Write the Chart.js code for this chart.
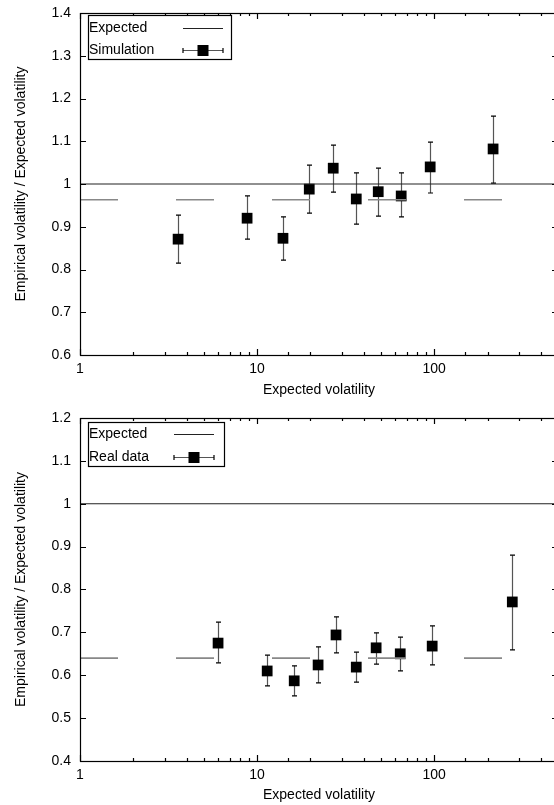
<!DOCTYPE html>
<html>
<head>
<meta charset="utf-8">
<script src="https://cdn.jsdelivr.net/npm/chart.js@4.4.1/dist/chart.umd.min.js"></script>
<style>
  body { margin: 0; background: #fff; overflow: hidden; }
  #wrap { width: 554px; height: 805px; overflow: hidden; }
  canvas { display: block; }
</style>
</head>
<body>
<div id="wrap">
  <canvas id="simChart" width="560" height="400"></canvas>
  <canvas id="realChart" width="560" height="405"></canvas>
</div>
<script>
// simulation (top panel)
const simX  = [3.58, 8.78, 14.0, 19.7, 26.9, 36.3, 48.3, 65.1, 94.9, 215];
const simY  = [0.871, 0.920, 0.873, 0.988, 1.037, 0.965, 0.982, 0.972, 1.040, 1.082];
const simHi = [0.927, 0.972, 0.923, 1.044, 1.091, 1.026, 1.037, 1.026, 1.098, 1.159];
const simLo = [0.815, 0.871, 0.822, 0.932, 0.981, 0.906, 0.925, 0.923, 0.979, 1.002];
const simBand = 0.963;

// real data (bottom panel)
const realX  = [6.02, 11.4, 16.2, 22.1, 27.9, 36.3, 47.0, 64.3, 97.4, 276];
const realY  = [0.675, 0.610, 0.587, 0.624, 0.694, 0.619, 0.664, 0.650, 0.668, 0.771];
const realHi = [0.724, 0.647, 0.622, 0.666, 0.736, 0.654, 0.699, 0.689, 0.715, 0.880];
const realLo = [0.629, 0.575, 0.552, 0.582, 0.652, 0.584, 0.626, 0.610, 0.624, 0.659];
const realBand = 0.640;

const expectedRatio = 1;
const xRange = [1, 500];
const simRange = [0.6, 1.4];
const realRange = [0.4, 1.2];

const FONT = "'Liberation Sans', Arial, Helvetica, sans-serif";

// error bars under the squares
const errorBars = {
  id: 'errorBars',
  beforeDatasetsDraw(chart) {
    const {ctx, scales: {x, y}} = chart;
    ctx.save();
    chart.data.datasets.forEach(ds => {
      if (!ds.errLo) return;
      ds.data.forEach((p, i) => {
        const px = Math.round(x.getPixelForValue(p.x)) + 0.5;
        const top = y.getPixelForValue(ds.errHi[i]);
        const bot = y.getPixelForValue(ds.errLo[i]);
        ctx.strokeStyle = '#555';
        ctx.lineWidth = 1.2;
        ctx.beginPath();
        ctx.moveTo(px, top);
        ctx.lineTo(px, bot);
        ctx.stroke();
        ctx.strokeStyle = '#000';
        ctx.beginPath();
        ctx.moveTo(px - 2.5, top); ctx.lineTo(px + 2.5, top);
        ctx.moveTo(px - 2.5, bot); ctx.lineTo(px + 2.5, bot);
        ctx.stroke();
      });
    });
    ctx.restore();
  }
};

// frame with inward ticks, gnuplot style
const frameTicks = {
  id: 'frameTicks',
  afterDraw(chart) {
    const {ctx, chartArea: a, scales: {x, y}} = chart;
    ctx.save();
    ctx.strokeStyle = '#000';
    ctx.lineWidth = 1.2;
    ctx.strokeRect(a.left + 0.5, a.top + 0.5, a.right - a.left, a.bottom - a.top);
    ctx.beginPath();
    x.ticks.forEach(t => {
      const lg = Math.log10(t.value);
      const len = Math.abs(lg - Math.round(lg)) < 1e-9 ? 6 : 3;
      const px = Math.round(x.getPixelForValue(t.value)) + 0.5;
      ctx.moveTo(px, a.bottom); ctx.lineTo(px, a.bottom - len);
      ctx.moveTo(px, a.top); ctx.lineTo(px, a.top + len);
    });
    y.ticks.forEach(t => {
      const py = Math.round(y.getPixelForValue(t.value)) + 0.5;
      ctx.moveTo(a.left, py); ctx.lineTo(a.left + 6, py);
      ctx.moveTo(a.right, py); ctx.lineTo(a.right - 6, py);
    });
    ctx.stroke();
    ctx.restore();
  }
};

// key box in the upper left corner
const gpLegend = {
  id: 'gpLegend',
  afterDraw(chart, args, opts) {
    const {ctx} = chart;
    const b = opts.box;
    ctx.save();
    ctx.fillStyle = '#fff';
    ctx.fillRect(b.x, b.y, b.w, b.h);
    ctx.strokeStyle = '#000';
    ctx.lineWidth = 1.2;
    ctx.strokeRect(b.x + 0.5, b.y + 0.5, b.w, b.h);
    ctx.font = '14px ' + FONT;
    ctx.fillStyle = '#000';
    ctx.textBaseline = 'middle';
    ctx.fillText(opts.labels[0], b.x + 1, b.y + opts.rows[0]);
    ctx.fillText(opts.labels[1], b.x + 1, b.y + opts.rows[1]);

    const x1 = b.x + b.w - opts.sample[0];
    const x2 = b.x + b.w - opts.sample[1];
    const r0 = Math.round(b.y + opts.rows[0]) + 0.5;
    const r1 = Math.round(b.y + opts.rows[1]) + 0.5;
    ctx.strokeStyle = '#222';
    ctx.lineWidth = 1.2;
    ctx.beginPath();
    ctx.moveTo(x1, r0); ctx.lineTo(x2, r0);
    ctx.stroke();
    ctx.strokeStyle = '#555';
    ctx.beginPath();
    ctx.moveTo(x1, r1); ctx.lineTo(x2, r1);
    ctx.stroke();
    ctx.strokeStyle = '#000';
    ctx.beginPath();
    ctx.moveTo(x1, r1 - 2.5); ctx.lineTo(x1, r1 + 2.5);
    ctx.moveTo(x2, r1 - 2.5); ctx.lineTo(x2, r1 + 2.5);
    ctx.stroke();
    ctx.fillStyle = '#000';
    const mid = (x1 + x2) / 2;
    ctx.fillRect(mid - 5.5, r1 - 5.5, 11, 11);
    ctx.restore();
  }
};

const makeChart = (canvas, cfg) => {
  return new Chart(canvas, {
    type: 'scatter',
    data: {
      datasets: [{
        label: 'Expected',
        data: [{x: xRange[0], y: expectedRatio}, {x: xRange[1], y: expectedRatio}],
        showLine: true,
        borderColor: '#222',
        borderWidth: 1.2,
        pointRadius: 0
      }, {
        label: 'mean',
        data: [{x: xRange[0], y: cfg.band}, {x: xRange[1], y: cfg.band}],
        showLine: true,
        borderColor: '#888',
        borderWidth: 1.6,
        borderDash: [38, 58],
        pointRadius: 0
      }, {
        label: cfg.name,
        data: cfg.xs.map((v, i) => ({x: v, y: cfg.ys[i]})),
        errLo: cfg.lo,
        errHi: cfg.hi,
        pointStyle: 'rect',
        pointRadius: 7.6,
        backgroundColor: '#000',
        borderWidth: 0
      }]
    },
    options: {
      responsive: false,
      animation: false,
      events: [],
      layout: { autoPadding: false, padding: { top: cfg.top, right: 2, left: 0, bottom: 0 } },
      plugins: {
        legend: { display: false },
        tooltip: { enabled: false },
        gpLegend: cfg.legend
      },
      scales: {
        x: {
          type: 'logarithmic',
          min: xRange[0],
          max: xRange[1],
          grid: { display: false, drawTicks: false },
          border: { display: false },
          afterFit: s => { s.height = cfg.xH; s.paddingLeft = 0; s.paddingRight = 0; },
          ticks: {
            autoSkip: false,
            maxRotation: 0,
            minRotation: 0,
            padding: 6,
            color: '#000',
            font: { family: FONT, size: 14 },
            callback: v => {
              const lg = Math.log10(v);
              return Math.abs(lg - Math.round(lg)) < 1e-9 ? String(v) : '';
            }
          },
          title: {
            display: true,
            text: 'Expected volatility',
            color: '#000',
            font: { family: FONT, size: 14 },
            padding: { top: 0, bottom: 1.5 }
          }
        },
        y: {
          min: cfg.range[0],
          max: cfg.range[1],
          grid: { display: false, drawTicks: false },
          border: { display: false },
          afterFit: s => { s.width = 80; s.paddingTop = 0; s.paddingBottom = 0; },
          ticks: {
            stepSize: 0.1,
            padding: 9,
            color: '#000',
            font: { family: FONT, size: 14 },
            callback: v => String(+v.toFixed(1))
          },
          title: {
            display: true,
            text: 'Empirical volatility / Expected volatility',
            color: '#000',
            font: { family: FONT, size: 14 },
            padding: { top: 13, bottom: 0 }
          }
        }
      }
    },
    plugins: [errorBars, frameTicks, gpLegend]
  });
};

makeChart(document.querySelector('#simChart'), {
  name: 'Simulation',
  xs: simX, ys: simY, lo: simLo, hi: simHi,
  band: simBand,
  range: simRange,
  top: 13,
  xH: 45,
  legend: {
    box: { x: 88, y: 15, w: 143, h: 44 },
    rows: [13, 35],
    sample: [48, 8],
    labels: ['Expected', 'Simulation']
  }
});

makeChart(document.querySelector('#realChart'), {
  name: 'Real data',
  xs: realX, ys: realY, lo: realLo, hi: realHi,
  band: realBand,
  range: realRange,
  top: 18,
  xH: 44,
  legend: {
    box: { x: 88, y: 22, w: 136, h: 44 },
    rows: [12, 35],
    sample: [50, 10],
    labels: ['Expected', 'Real data']
  }
});
</script>
</body>
</html>
